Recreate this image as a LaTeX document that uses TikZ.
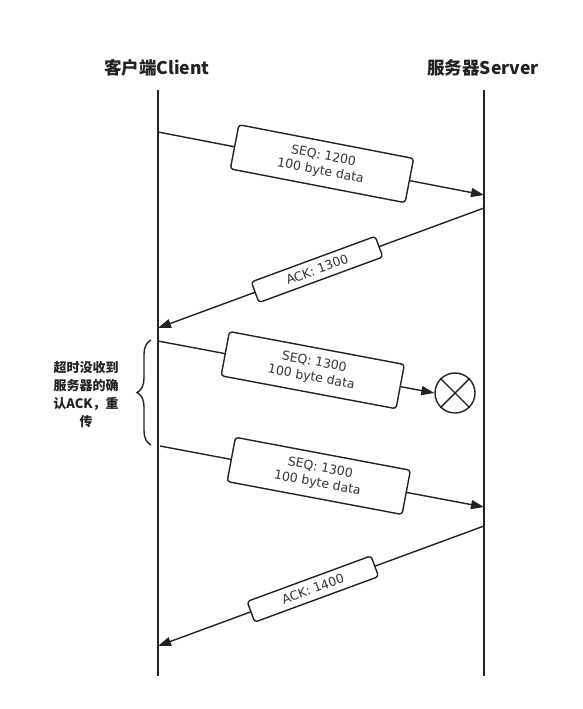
\documentclass[tikz,border=0pt]{standalone}
\usepackage{fontspec}
\setmainfont{DejaVu Sans}
\newfontfamily\cjk{Noto Sans CJK SC}
\usetikzlibrary{arrows.meta,decorations.pathreplacing}
\definecolor{ink}{HTML}{222222}
\definecolor{txt}{HTML}{333333}
\tikzset{
  lifeline/.style={line width=1.5pt, draw=ink},
  msg/.style={line width=1.4pt, draw=ink, -{Triangle[length=13pt,width=9pt]}},
  databox/.style={draw=ink, line width=1.4pt, fill=white, rounded corners=3pt,
    minimum width=178pt, minimum height=45pt, align=center, inner sep=2pt,
    font=\fontsize{12.5}{15.5}\selectfont, text=txt, sloped},
  ackbox/.style={draw=ink, line width=1.4pt, fill=white, rounded corners=3pt,
    minimum width=132pt, minimum height=22pt, inner sep=2pt,
    font=\fontsize{12.5}{15.5}\selectfont, text=txt, sloped},
  title/.style={font=\cjk\bfseries\fontsize{17.5}{20}\selectfont, text=ink},
  note/.style={font=\cjk\bfseries\fontsize{13}{18}\selectfont, text=ink, align=center},
}
\begin{document}
\begin{tikzpicture}[x=1pt,y=-1pt]
\useasboundingbox (0,0) rectangle (582,709);
% titles
\node[title] (ct) at (157,68) {客户端Client};
\node[title] (st) at (483,68) {服务器Server};
% lifelines
\coordinate (ctop) at (158,90);
\coordinate (cbot) at (158,676);
\coordinate (stop) at (484,90);
\coordinate (sbot) at (484,676);
\draw[lifeline] (ctop) -- (cbot);
\draw[lifeline] (stop) -- (sbot);
% message endpoints
\coordinate (c1) at (158,132);  \coordinate (s1) at (484,195);
\coordinate (s2) at (484,208);  \coordinate (c2) at (158,328);
\coordinate (c3) at (158,341);
\coordinate (c4) at (160,446);  \coordinate (s4) at (484,507);
\coordinate (s5) at (484,526);  \coordinate (c5) at (158,646);
% lost packet marker
\node[draw=ink, line width=1.4pt, circle, minimum size=40pt, inner sep=0pt] (lost) at (455,393) {};
\draw[line width=1.4pt, draw=ink] (lost.45) -- (lost.225) (lost.135) -- (lost.315);
% messages
\draw[msg] (c1) -- (s1) node[databox, pos=0.503] (m1) {SEQ: 1200\\100 byte data};
\draw[msg] (s2) -- (c2) node[ackbox, pos=0.512] (m2) {ACK: 1300};
\draw[msg] (c3) -- (lost.west) node[databox, pos=0.56] (m3) {SEQ: 1300\\100 byte data};
\draw[msg] (c4) -- (s4) node[databox, pos=0.49] (m4) {SEQ: 1300\\100 byte data};
\draw[msg] (s5) -- (c5) node[ackbox, pos=0.525] (m5) {ACK: 1400};
% brace and note
\coordinate (bb) at (151,445);
\coordinate (bt) at (151,340);
\draw[line width=1.4pt, draw=ink, decorate, decoration={brace, amplitude=14pt}] (bb) -- (bt);
\node[note] (nt) at (86,395) {超时没收到\\服务器的确\\认ACK，重\\传};
\end{tikzpicture}
\end{document}
